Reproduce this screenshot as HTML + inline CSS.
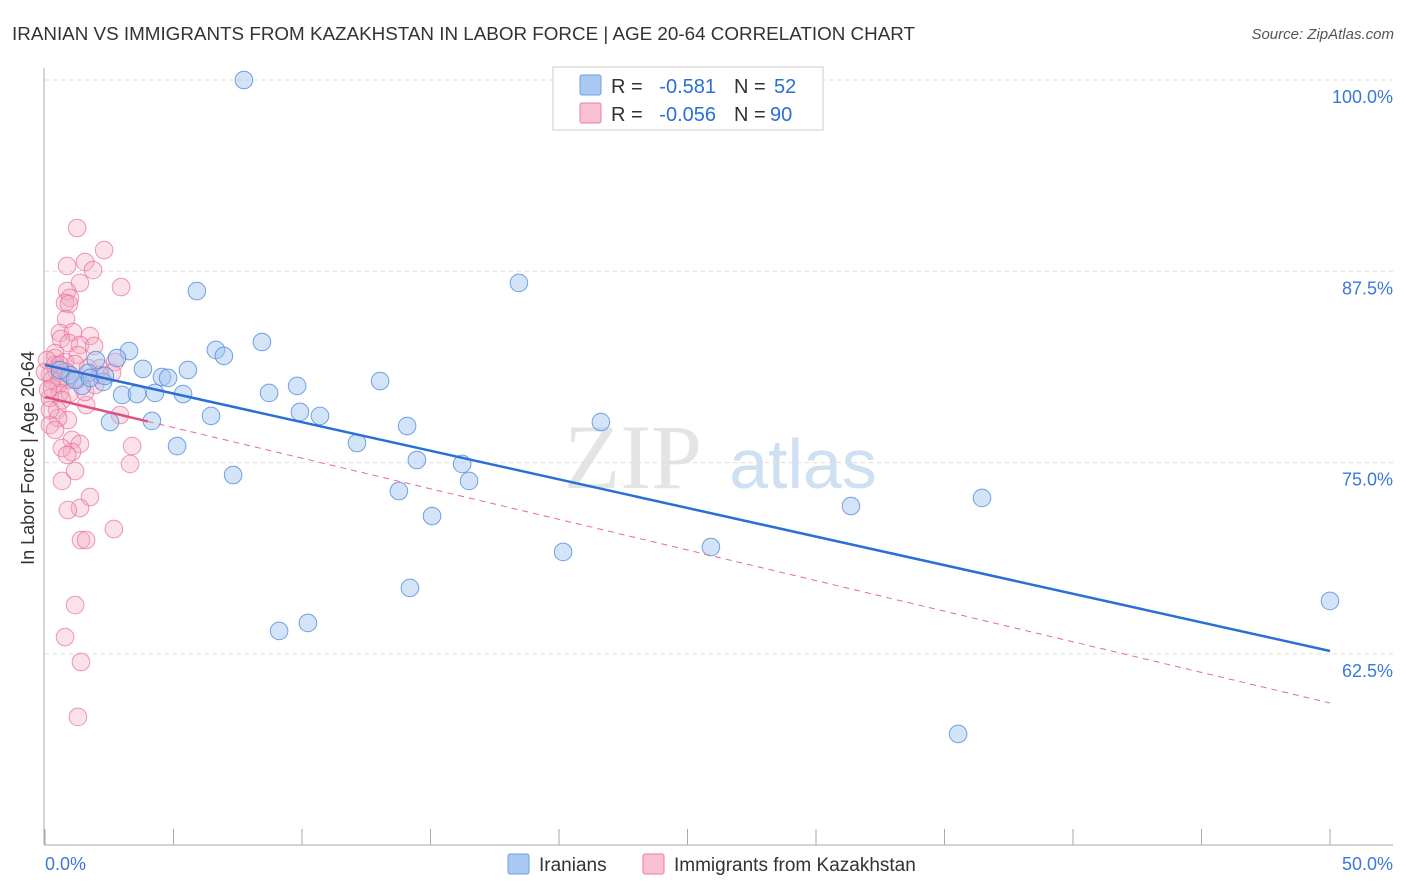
<!DOCTYPE html>
<html><head><meta charset="utf-8"><style>
body{margin:0;background:#fff;font-family:"Liberation Sans",sans-serif}
svg{display:block}
</style></head><body>
<svg id="c" width="1406" height="892" xmlns="http://www.w3.org/2000/svg">
<text x="12" y="40" font-size="18.6" fill="#333" textLength="903" lengthAdjust="spacingAndGlyphs">IRANIAN VS IMMIGRANTS FROM KAZAKHSTAN IN LABOR FORCE | AGE 20-64 CORRELATION CHART</text>
<text x="1394" y="39" font-size="15" font-style="italic" fill="#555" text-anchor="end">Source: ZipAtlas.com</text>
<g>
<text x="633" y="488" font-size="92" font-family="Liberation Serif,serif" fill="#e4e4e4" text-anchor="middle">ZIP</text>
<text x="803" y="488" font-size="70" fill="#cfe0f3" text-anchor="middle">atlas</text>
</g>
<g id="grid"></g><g id="axes"></g><g id="pts"></g><g id="lines"></g>
<text x="34" y="458" font-size="18" fill="#333" text-anchor="middle" transform="rotate(-90 34 458)">In Labor Force | Age 20-64</text>
<g>
<rect x="553" y="67" width="270" height="63" fill="#fff" stroke="#ccc"/>
<rect x="580" y="75" width="21" height="20" fill="#a9c8f2" stroke="#6fa0e0" rx="2"/>
<rect x="580" y="103" width="21" height="20" fill="#f8c2d3" stroke="#e880a0" rx="2"/>
<text x="611" y="93" font-size="20" fill="#333">R =</text>
<text x="716" y="93" font-size="20" fill="#2a6fd6" text-anchor="end">-0.581</text>
<text x="734" y="93" font-size="20" fill="#333">N =</text>
<text x="774" y="93" font-size="20" fill="#2a6fd6">52</text>
<text x="611" y="121" font-size="20" fill="#333">R =</text>
<text x="716" y="121" font-size="20" fill="#2a6fd6" text-anchor="end">-0.056</text>
<text x="734" y="121" font-size="20" fill="#333">N =</text>
<text x="770" y="121" font-size="20" fill="#2a6fd6">90</text>
</g>
<g>
<rect x="508" y="854" width="21" height="20" fill="#a9c8f2" stroke="#6fa0e0" rx="2"/>
<text x="539" y="871" font-size="19" fill="#333">Iranians</text>
<rect x="643" y="854" width="21" height="20" fill="#f8c2d3" stroke="#e880a0" rx="2"/>
<text x="674" y="871" font-size="19" fill="#333">Immigrants from Kazakhstan</text>
</g>
</svg>
<script>
const yTicks=[100,87.5,75,62.5];
const yTickLabels=["100.0%","87.5%","75.0%","62.5%"];
const xTickLabels=["0.0%","50.0%"];
const blueX=[7.74,5.91,18.44,3.27,2.80,6.65,6.96,8.44,1.98,3.81,5.56,4.55,4.79,2.26,1.44,1.67,13.04,9.81,8.72,3.00,3.58,4.28,5.37,9.92,10.70,6.46,4.16,2.53,14.09,21.63,12.14,5.14,14.47,16.23,16.50,7.32,13.77,15.06,31.36,36.46,20.16,25.91,14.20,9.11,10.23,50.0,35.53,0.97,0.58,1.17,1.75,2.33];
const blueY=[100,86.21,86.74,82.29,81.83,82.36,81.97,82.88,81.70,81.12,81.05,80.59,80.53,80.27,80.01,80.86,80.33,80.01,79.55,79.42,79.48,79.55,79.48,78.31,78.05,78.05,77.72,77.65,77.39,77.65,76.28,76.08,75.17,74.91,73.80,74.19,73.14,71.51,72.16,72.69,69.16,69.48,66.81,64.00,64.52,65.96,57.27,80.72,81.05,80.40,80.53,80.66];
const pinkX=[1.25,2.30,1.56,0.86,1.87,1.36,2.96,0.86,0.97,0.78,0.93,0.82,0.58,1.09,1.75,0.62,0.39,0.93,1.36,1.91,1.28,0.39,0.78,1.17,1.67,2.14,2.72,2.61,0.43,0.19,0.58,0.89,0.51,0.27,0.58,0.97,0.19,0.66,1.60,0.47,0.89,0.51,0.19,1.05,1.36,3.39,1.05,0.66,0.86,3.31,1.17,0.66,1.75,1.36,0.89,1.40,1.60,2.68,1.17,0.78,1.40,1.28,0.39,0.08,0.27,0.12,0,0.19,0.39,0.58,0.82,1.25,2.14,2.92,1.56,1.95];
const pinkY=[90.33,88.89,88.11,87.85,87.58,86.74,86.47,86.21,85.76,85.43,85.36,84.38,83.47,83.53,83.27,83.08,82.16,82.81,82.68,82.62,82.03,81.83,81.57,81.44,81.18,81.18,81.57,80.86,81.05,80.72,80.53,80.40,80.07,79.87,79.55,79.55,79.22,79.09,78.76,78.44,77.78,77.91,77.46,76.48,76.22,76.08,75.69,75.95,75.50,74.91,74.45,73.80,72.75,72.03,71.90,69.94,69.94,70.66,65.69,63.60,61.97,58.38,81.38,81.70,80.40,79.74,80.92,78.44,77.13,81.38,80.92,80.40,80.72,78.11,79.61,80.07];
const blueTrend=[81.38,62.69];
const pinkTrend=[79.29,59.29];
const pinkSolidEnd=4;
const X=v=>45+v*25.7;
const Y=v=>80+(100-v)*15.304;
const NS="http://www.w3.org/2000/svg";
function mk(t,a,p){const e=document.createElementNS(NS,t);for(const k in a)e.setAttribute(k,a[k]);p.appendChild(e);return e;}
const grid=document.getElementById('grid'),axes=document.getElementById('axes'),pts=document.getElementById('pts'),lines=document.getElementById('lines');
yTicks.forEach((t,i)=>{
 const l=mk('line',{x1:45,x2:1393,y1:Y(t),y2:Y(t),stroke:'#ddd','stroke-dasharray':'4 4'},grid);
 
 
 const tx=mk('text',{x:1393,y:Y(t)+23,'font-size':18,fill:'#3b78d8','text-anchor':'end'},axes);
 tx.textContent=yTickLabels[i];
 
 
});
let a=mk('line',{x1:44,x2:44,y1:68,y2:845,stroke:'#aaa'},axes);


a=mk('line',{x1:44,x2:1393,y1:845,y2:845,stroke:'#aaa'},axes);


for(let i=0;i<=10;i++){
 const tk=mk('line',{x1:X(i*5),x2:X(i*5),y1:829,y2:845,stroke:'#aaa'},axes);
 
 
}
[[0,'start',45],[50,'end',1393]].forEach((d,i)=>{
 const tx=mk('text',{x:d[2],y:870,'font-size':18,fill:'#3b78d8','text-anchor':d[1]},axes);
 tx.textContent=xTickLabels[i];
 
 
});
pinkX.forEach((v,i)=>{
 const c=mk('circle',{cx:X(v),cy:Y(pinkY[i]),r:8.8,fill:'rgba(244,170,195,0.35)',stroke:'rgba(232,110,150,0.7)','stroke-width':1},pts);
 
 
});
blueX.forEach((v,i)=>{
 const c=mk('circle',{cx:X(v),cy:Y(blueY[i]),r:8.8,fill:'rgba(160,196,240,0.45)',stroke:'rgba(80,140,220,0.8)','stroke-width':1},pts);
 
 
});
const pAt=x=>pinkTrend[0]+(pinkTrend[1]-pinkTrend[0])*x/50;
let ln=mk('line',{x1:X(pinkSolidEnd),y1:Y(pAt(pinkSolidEnd)),x2:X(50),y2:Y(pinkTrend[1]),stroke:'#e56b91','stroke-width':1,'stroke-dasharray':'6 5'},lines);


ln=mk('line',{x1:X(0),y1:Y(pinkTrend[0]),x2:X(pinkSolidEnd),y2:Y(pAt(pinkSolidEnd)),stroke:'#e0507a','stroke-width':2.5},lines);


ln=mk('line',{x1:X(0),y1:Y(blueTrend[0]),x2:X(50),y2:Y(blueTrend[1]),stroke:'#2a6fd6','stroke-width':2.5},lines);


</script>
</body></html>
